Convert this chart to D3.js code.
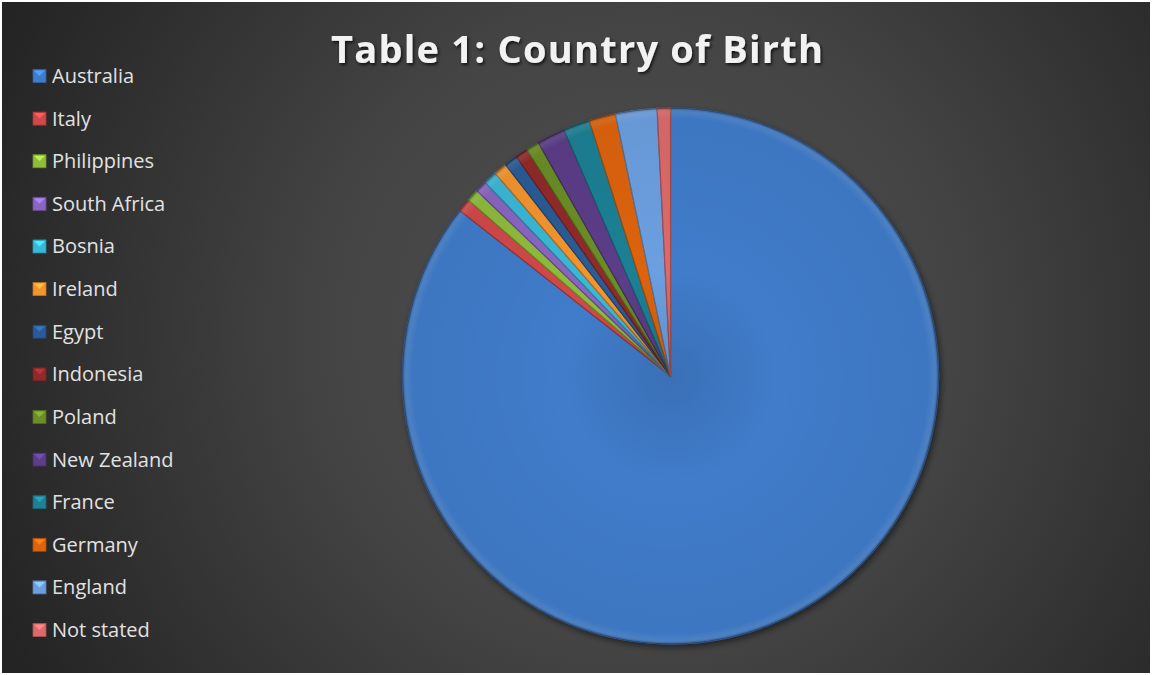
<!DOCTYPE html>
<html>
<head>
<meta charset="utf-8">
<script src="https://cdn.jsdelivr.net/npm/d3@7"></script>
<style>
  html, body { margin: 0; padding: 0; background: #ffffff; }
  svg { display: block; }
</style>
</head>
<body>
<svg id="chart" width="1152" height="675"></svg>
<script>
const titleText = "Table 1: Country of Birth";
const categories = ["Australia", "Italy", "Philippines", "South Africa", "Bosnia", "Ireland", "Egypt",
  "Indonesia", "Poland", "New Zealand", "France", "Germany", "England", "Not stated"];
const values = [85.6, 0.8, 0.75, 0.7, 0.8, 0.8, 0.8, 0.75, 0.8, 1.7, 1.6, 1.6, 2.5, 0.8];
const colors = ["#3f7cca", "#d24848", "#8fbc3c", "#8a66c2", "#3bb8d8", "#f3952e", "#2b5b96",
  "#922a2a", "#6b8e26", "#5b3d88", "#1f8095", "#dd640f", "#6c9fe0", "#dc6a6a"];

const W = 1152, H = 675;
const svg = d3.select("#chart");
const defs = svg.append("defs");

// background gradient
const bg = defs.append("radialGradient").attr("id", "bg")
  .attr("gradientUnits", "userSpaceOnUse")
  .attr("cx", 640).attr("cy", 330).attr("r", 700);
bg.append("stop").attr("offset", "0").attr("stop-color", "#505050");
bg.append("stop").attr("offset", "0.45").attr("stop-color", "#444444");
bg.append("stop").attr("offset", "1").attr("stop-color", "#242424");
svg.append("rect").attr("x", 2).attr("y", 2).attr("width", W - 4).attr("height", H - 4)
  .attr("fill", "url(#bg)");

// title
const shadow = defs.append("filter").attr("id", "tshadow").attr("x", "-10%").attr("y", "-30%")
  .attr("width", "120%").attr("height", "160%");
shadow.append("feDropShadow").attr("dx", 1.5).attr("dy", 2).attr("stdDeviation", 1.5)
  .attr("flood-color", "#000").attr("flood-opacity", 0.7);
svg.append("text").attr("x", 577).attr("y", 63).attr("text-anchor", "middle")
  .attr("font-family", "'Open Sans', sans-serif").attr("font-weight", 700)
  .attr("font-size", 38).attr("fill", "#f2f2f2")
  .attr("textLength", 492).attr("lengthAdjust", "spacing")
  .attr("filter", "url(#tshadow)")
  .text(titleText);

// pie
const cx = 670.5, cy = 376, R = 268;
const pie = d3.pie().sort(null).value(d => d).startAngle(0).endAngle(2 * Math.PI);
const arcs = pie(values);
const arc = d3.arc().innerRadius(0).outerRadius(R);
const rimArc = d3.arc().innerRadius(R - 10).outerRadius(R);
const g = svg.append("g").attr("transform", `translate(${cx},${cy})`);

const pshadow = defs.append("filter").attr("id", "pshadow").attr("x", "-10%").attr("y", "-10%")
  .attr("width", "120%").attr("height", "120%");
pshadow.append("feDropShadow").attr("dx", 2).attr("dy", 3).attr("stdDeviation", 3)
  .attr("flood-color", "#000").attr("flood-opacity", 0.5);

const slices = g.append("g").attr("filter", "url(#pshadow)");
slices.selectAll("path.slice").data(arcs).enter().append("path")
  .attr("class", "slice")
  .attr("d", arc)
  .attr("fill", (d, i) => colors[i])
  .attr("stroke", (d, i) => d3.color(colors[i]).darker(0.9))
  .attr("stroke-width", 1.2);

// bevel rim
const rimG = defs.append("radialGradient").attr("id", "rim")
  .attr("gradientUnits", "userSpaceOnUse").attr("cx", 0).attr("cy", 0).attr("r", R);
rimG.append("stop").attr("offset", "0.96").attr("stop-color", "#fff").attr("stop-opacity", 0);
rimG.append("stop").attr("offset", "0.985").attr("stop-color", "#fff").attr("stop-opacity", 0.08);
rimG.append("stop").attr("offset", "1").attr("stop-color", "#000").attr("stop-opacity", 0.3);
g.selectAll("path.rim").data(arcs).enter().append("path")
  .attr("class", "rim")
  .attr("d", rimArc)
  .attr("fill", "url(#rim)");

// inner shading
const shade = defs.append("radialGradient").attr("id", "shade")
  .attr("gradientUnits", "userSpaceOnUse").attr("cx", 0).attr("cy", 0).attr("r", R);
shade.append("stop").attr("offset", "0").attr("stop-color", "#000").attr("stop-opacity", 0.1);
shade.append("stop").attr("offset", "0.4").attr("stop-color", "#000").attr("stop-opacity", 0);
shade.append("stop").attr("offset", "1").attr("stop-color", "#000").attr("stop-opacity", 0.05);
g.append("circle").attr("r", R).attr("fill", "url(#shade)").attr("pointer-events", "none");

// legend
const legendY = d3.scalePoint().domain(categories).range([76, 630]);
const leg = svg.append("g");
const items = leg.selectAll("g").data(categories).enter().append("g")
  .attr("transform", d => `translate(33,${legendY(d)})`);
items.append("rect").attr("x", 0).attr("y", -6.5).attr("width", 13).attr("height", 13)
  .attr("fill", (d, i) => colors[i])
  .attr("stroke", (d, i) => d3.color(colors[i]).darker(0.7)).attr("stroke-width", 0.8);
items.append("path")
  .attr("d", "M1,-5.5 L12,-5.5 L6.5,0 Z")
  .attr("fill", (d, i) => d3.color(colors[i]).brighter(0.7));
items.append("text").attr("x", 19).attr("y", 0).attr("dy", "0.35em")
  .attr("font-family", "'Open Sans', sans-serif").attr("font-size", 20)
  .attr("fill", "#e2e2e2")
  .text(d => d);
</script>
</body>
</html>
